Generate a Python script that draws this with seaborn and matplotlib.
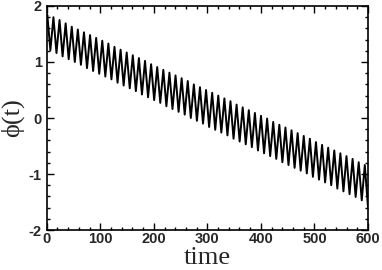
import numpy as np
import pandas as pd
import matplotlib
matplotlib.use("Agg")
import matplotlib.pyplot as plt
from matplotlib.ticker import MultipleLocator
import seaborn as sns

# start point, then read peaks and troughs of phi(t)
start_time = [0.0]
start_value = [1.78]
peak_times = [1.2, 12.6, 24.0, 35.4, 46.8, 58.2, 69.6, 81.0, 92.4, 103.8, 115.2, 126.6, 138.0,
              149.4, 160.8, 172.2, 183.6, 195.0, 206.4, 217.8, 229.2, 240.6, 252.0, 263.4, 274.8,
              286.2, 297.6, 309.0, 320.4, 331.8, 343.2, 354.6, 366.0, 377.4, 388.8, 400.2, 411.6,
              423.0, 434.4, 445.8, 457.2, 468.6, 480.0, 491.4, 502.8, 514.2, 525.6, 537.0, 548.4,
              559.8, 571.2, 582.6, 594.0]
peak_values = [1.84, 1.80, 1.75, 1.69, 1.63, 1.58, 1.53, 1.48, 1.43, 1.38, 1.33, 1.27, 1.22,
               1.17, 1.12, 1.07, 1.02, 0.96, 0.91, 0.86, 0.81, 0.76, 0.71, 0.66, 0.60,
               0.55, 0.50, 0.45, 0.40, 0.35, 0.30, 0.24, 0.19, 0.14, 0.09, 0.04, -0.01,
               -0.07, -0.12, -0.17, -0.22, -0.27, -0.32, -0.37, -0.43, -0.48, -0.53, -0.58, -0.63,
               -0.68, -0.73, -0.79, -0.84]
trough_times = [6.9, 18.3, 29.7, 41.1, 52.5, 63.9, 75.3, 86.7, 98.1, 109.5, 120.9, 132.3, 143.7,
                155.1, 166.5, 177.9, 189.3, 200.7, 212.1, 223.5, 234.9, 246.3, 257.7, 269.1, 280.5,
                291.9, 303.3, 314.7, 326.1, 337.5, 348.9, 360.3, 371.7, 383.1, 394.5, 405.9, 417.3,
                428.7, 440.1, 451.5, 462.9, 474.3, 485.7, 497.1, 508.5, 519.9, 531.3, 542.7, 554.1,
                565.5, 576.9, 588.3, 600.0]
trough_values = [1.21, 1.16, 1.10, 1.05, 1.00, 0.95, 0.89, 0.84, 0.79, 0.74, 0.69, 0.63, 0.58,
                 0.53, 0.48, 0.42, 0.37, 0.32, 0.27, 0.21, 0.16, 0.11, 0.06, 0.00, -0.05,
                 -0.10, -0.16, -0.21, -0.26, -0.31, -0.37, -0.42, -0.47, -0.52, -0.58, -0.63, -0.68,
                 -0.73, -0.79, -0.84, -0.89, -0.94, -0.99, -1.05, -1.10, -1.15, -1.20, -1.26, -1.31,
                 -1.36, -1.41, -1.47, -1.60]

x_ticks = [0, 100, 200, 300, 400, 500, 600]
y_ticks = [-2, -1, 0, 1, 2]

df = pd.DataFrame({
    "time": start_time + peak_times + trough_times,
    "phi": start_value + peak_values + trough_values,
}).sort_values("time").reset_index(drop=True)

sns.set_style("ticks")
plt.rcParams["font.family"] = ["Liberation Sans", "DejaVu Sans"]

fig = plt.figure(figsize=(3.82, 2.70), dpi=100)
ax = fig.add_axes([0.1222, 0.1481, 0.9634 - 0.1222, 0.9778 - 0.1481])

sns.lineplot(data=df, x="time", y="phi", ax=ax, color="black", linewidth=1.4,
             estimator=None, sort=False)

ax.set_xlim(0, 600)
ax.set_ylim(-2, 2)
ax.set_xticks(x_ticks)
ax.set_yticks(y_ticks)
ax.set_xticklabels([str(v) for v in x_ticks], fontweight="bold", fontsize=10.5)
ax.set_yticklabels([str(v) for v in y_ticks], fontweight="bold", fontsize=10.5)
ax.xaxis.set_minor_locator(MultipleLocator(20))
ax.yaxis.set_minor_locator(MultipleLocator(0.2))
ax.tick_params(which="both", direction="in", top=True, right=True, width=1.0, color="black")
ax.tick_params(which="major", length=5)
ax.tick_params(axis="x", which="major", pad=1.5)
ax.tick_params(axis="y", which="major", pad=3.5)
ax.tick_params(which="minor", length=2.5)
for s in ax.spines.values():
    s.set_visible(True)
    s.set_linewidth(1.2)
    s.set_color("black")

ax.set_xlabel("time", family=["Liberation Serif", "DejaVu Serif"], fontsize=19, labelpad=1)
ax.set_ylabel("ϕ(t)", family=["Liberation Serif", "DejaVu Serif"], fontsize=19, labelpad=3)

fig.savefig("out.png", dpi=100)
